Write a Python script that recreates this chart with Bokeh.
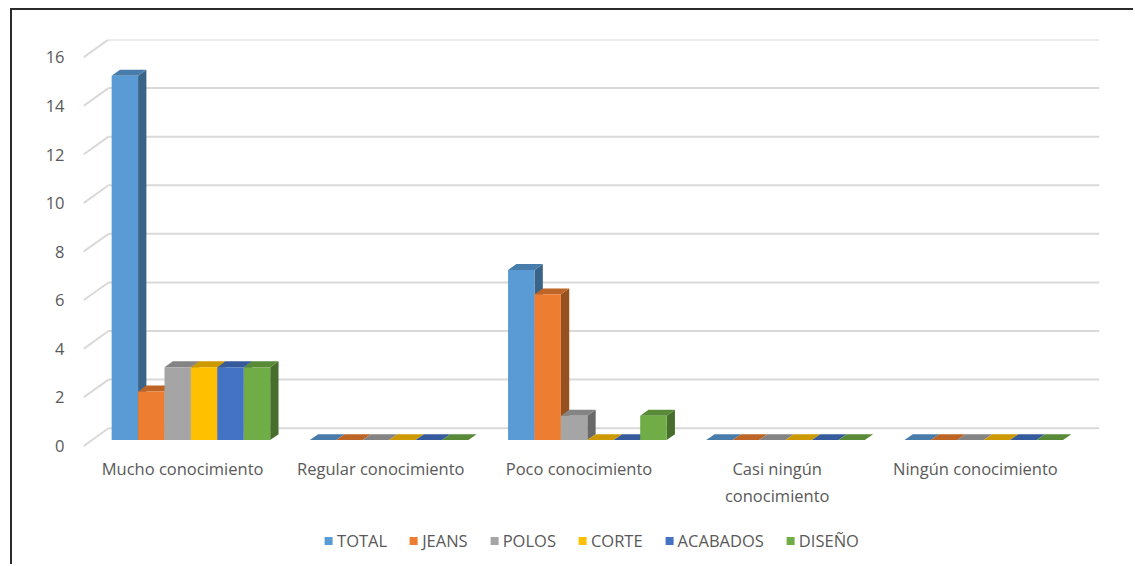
from bokeh.plotting import figure
from bokeh.layouts import column
from bokeh.models import Range1d, FixedTicker, Legend, LegendItem
from bokeh.embed import file_html
from bokeh.resources import INLINE

# ---------------- data ----------------
categories = ["Mucho conocimiento", "Regular conocimiento", "Poco conocimiento",
              "Casi ningún\nconocimiento", "Ningún conocimiento"]
series_names = ["TOTAL", "JEANS", "POLOS", "CORTE", "ACABADOS", "DISEÑO"]
total = [15, 0, 7, 0, 0]
jeans = [2, 0, 6, 0, 0]
polos = [3, 0, 1, 0, 0]
corte = [3, 0, 0, 0, 0]
acabados = [3, 0, 0, 0, 0]
diseno = [3, 0, 1, 0, 0]
y_ticks = [0, 2, 4, 6, 8, 10, 12, 14, 16]

series_values = [total, jeans, polos, corte, acabados, diseno]
base_colors = ["#5B9BD5", "#ED7D31", "#A5A5A5", "#FFC000", "#4472C4", "#70AD47"]

# ---------------- style ----------------
DEPTH_X = 0.126   # wall depth offset (category units)
DEPTH_Y = 0.735   # wall depth offset (value units)
GROUP_W = 0.8
FONT = "Open Sans"
TXT = "#595959"
BORDER = "#2b2b2b"


def shade(hex_color, f):
    h = hex_color.lstrip("#")
    r, g, b = (int(h[i:i + 2], 16) for i in (0, 2, 4))
    return "#%02x%02x%02x" % (int(r * f), int(g * f), int(b * f))


n_cat = len(categories)
n_ser = len(series_names)

p = figure(width=1133, height=510, output_backend="svg", toolbar_location=None,
           x_range=Range1d(0, n_cat + DEPTH_X), y_range=Range1d(-0.1, 16 + DEPTH_Y),
           min_border_left=83, min_border_right=34, min_border_top=39,
           min_border_bottom=56)
p.outline_line_color = None
p.xgrid.visible = False
p.ygrid.visible = False
p.background_fill_color = "white"
p.border_fill_color = None
p.styles = {"background": (f"linear-gradient({BORDER},{BORDER}) 10px 8px / 2px 100% no-repeat, "
                           f"linear-gradient({BORDER},{BORDER}) 10px 8px / 100% 2px no-repeat")}

# back-wall gridlines with perspective diagonals
p.segment(x0=[DEPTH_X] * len(y_ticks), x1=[n_cat + DEPTH_X] * len(y_ticks),
          y0=[t + DEPTH_Y for t in y_ticks], y1=[t + DEPTH_Y for t in y_ticks],
          line_color="#D9D9D9", line_width=2)
p.segment(x0=[0] * len(y_ticks), x1=[DEPTH_X] * len(y_ticks),
          y0=y_ticks, y1=[t + DEPTH_Y for t in y_ticks],
          line_color="#D9D9D9", line_width=2)

# 3D bars
bw = GROUP_W / n_ser
dx = DEPTH_X / 3
dy = DEPTH_Y / 3
for i, (name, vals, col) in enumerate(zip(series_names, series_values, base_colors)):
    lefts = [k + 0.5 + dx - GROUP_W / 2 + i * bw for k in range(n_cat)]
    rights = [l + bw for l in lefts]
    bottoms = [dy] * n_cat
    tops = [v + dy for v in vals]
    side_xs = [[r, r + dx, r + dx, r] for r in rights]
    side_ys = [[b, b + dy, t + dy, t] for b, t in zip(bottoms, tops)]
    top_xs = [[l, r, r + dx, l + dx] for l, r in zip(lefts, rights)]
    top_ys = [[t, t, t + dy, t + dy] for t in tops]
    p.patches(side_xs, side_ys, fill_color=shade(col, 0.64), line_color=None)
    p.patches(top_xs, top_ys, fill_color=shade(col, 0.80), line_color=None)
    p.quad(left=lefts, right=rights, bottom=bottoms, top=tops,
           fill_color=col, line_color=None)

# axes
p.xaxis.ticker = FixedTicker(ticks=[k + 0.5 for k in range(n_cat)])
p.xaxis.major_label_overrides = {k + 0.5: c for k, c in enumerate(categories)}
p.yaxis.ticker = FixedTicker(ticks=y_ticks)
for ax in (p.xaxis[0], p.yaxis[0]):
    ax.axis_line_color = None
    ax.major_tick_line_color = None
    ax.minor_tick_line_color = None
    ax.major_label_text_font = FONT
    ax.major_label_text_font_size = "16.5px"
    ax.major_label_text_color = TXT
p.yaxis.major_label_standoff = 13
p.xaxis.major_label_standoff = 2

# legend strip (separate small figure below the chart)
lg = figure(width=1133, height=54, output_backend="svg", toolbar_location=None,
            x_axis_type=None, y_axis_type=None,
            x_range=Range1d(0, 1), y_range=Range1d(0, 1),
            min_border_left=12, min_border_right=0, min_border_top=6,
            min_border_bottom=0)
lg.outline_line_color = None
lg.grid.visible = False
lg.background_fill_color = None
lg.border_fill_color = None
lg.styles = {"background": f"linear-gradient({BORDER},{BORDER}) 10px 0 / 2px 100% no-repeat"}
items = []
for name, col in zip(series_names, base_colors):
    # zero-size proxy glyph, used only for the legend swatch
    r = lg.quad(left=[0], right=[0], bottom=[0], top=[0], fill_color=col, line_color=None)
    items.append(LegendItem(label=name, renderers=[r]))
legend = Legend(items=items, orientation="horizontal", location="center",
                label_text_font=FONT, label_text_font_size="16.5px",
                label_text_color=TXT, glyph_width=10, glyph_height=10,
                label_standoff=4, spacing=21, border_line_color=None,
                background_fill_alpha=0, margin=0, padding=4)
lg.add_layout(legend, "center")

layout = column(p, lg, spacing=0)
open("out.html", "w").write(file_html(layout, INLINE))
